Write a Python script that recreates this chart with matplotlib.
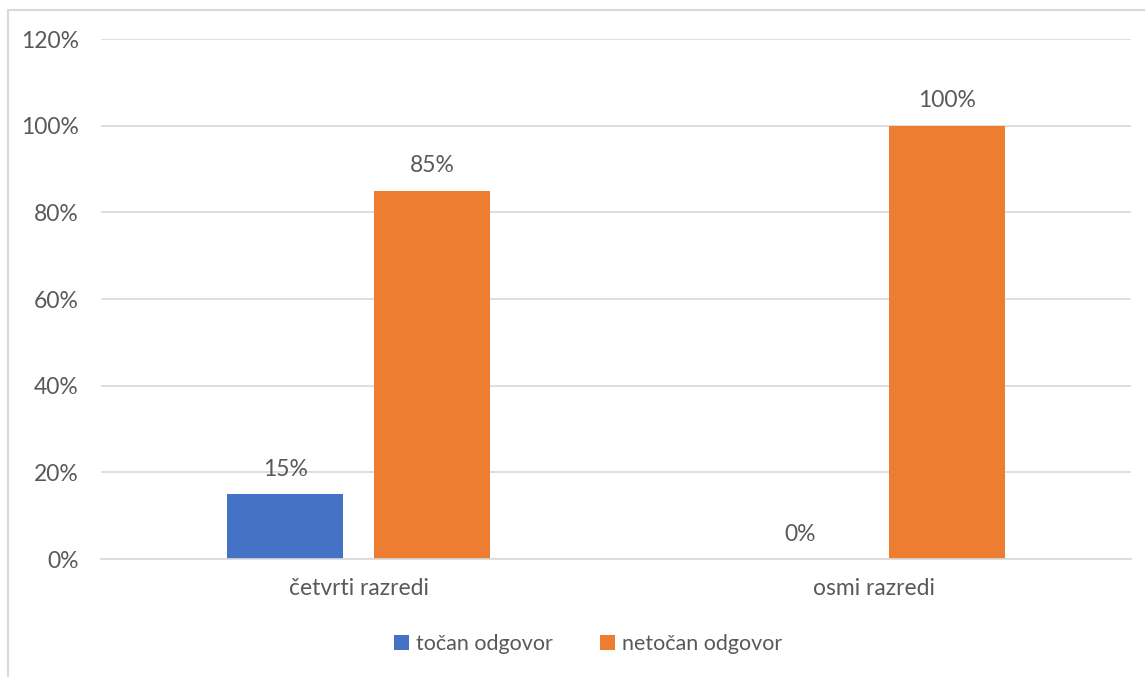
import matplotlib.pyplot as plt
import matplotlib.patches as mpatches
import numpy as np

categories = ['četvrti razredi', 'osmi razredi']
series_names = ['točan odgovor', 'netočan odgovor']
tocan = [15, 0]
netocan = [85, 100]
colors = ['#4472c4', '#ed7d31']

plt.rcParams['font.family'] = ['Lato', 'DejaVu Sans']
text_color = '#595959'
fs = 16.5

fig = plt.figure(figsize=(11.45, 6.77), dpi=100)
ax = fig.add_axes([101 / 1145, 1 - 559 / 677, 1030 / 1145, 520 / 677])

# chart area border
fig.patches.append(mpatches.Rectangle((8 / 1145, -0.05), 1.2, 1 - 10 / 677 + 0.05,
                                      transform=fig.transFigure, fill=False,
                                      edgecolor='#d9d9d9', linewidth=1.5))

x = np.arange(len(categories))
w = 0.225
off = 0.1425
b1 = ax.bar(x - off, tocan, w, color=colors[0], label=series_names[0])
b2 = ax.bar(x + off, netocan, w, color=colors[1], label=series_names[1])

for bars, vals in ((b1, tocan), (b2, netocan)):
    for rect, v in zip(bars, vals):
        ax.text(rect.get_x() + rect.get_width() / 2, v + 3.3, f'{v}%',
                ha='center', va='bottom', fontsize=fs, color=text_color)

ax.set_xlim(-0.5, 1.5)
ax.set_ylim(0, 120)
ax.set_yticks(range(0, 121, 20))
ax.set_yticklabels([f'{t}%' for t in range(0, 121, 20)])
ax.set_xticks(x)
ax.set_xticklabels(categories)
ax.tick_params(axis='both', length=0, labelsize=fs, labelcolor=text_color)
ax.tick_params(axis='y', pad=16)
ax.tick_params(axis='x', pad=14)
ax.yaxis.grid(True, color='#d9d9d9', linewidth=1.2)
ax.set_axisbelow(True)
for s in ['top', 'right', 'left']:
    ax.spines[s].set_visible(False)
ax.spines['bottom'].set_color('#d9d9d9')
ax.spines['bottom'].set_linewidth(1.2)

leg = fig.legend(loc='center', bbox_to_anchor=(588 / 1145, 1 - 644 / 677), ncol=2,
                 frameon=False, fontsize=15.5, handlelength=0.7, handleheight=0.7,
                 handletextpad=0.3, columnspacing=2.2)
for t in leg.get_texts():
    t.set_color(text_color)

fig.savefig('out.png', dpi=100)
